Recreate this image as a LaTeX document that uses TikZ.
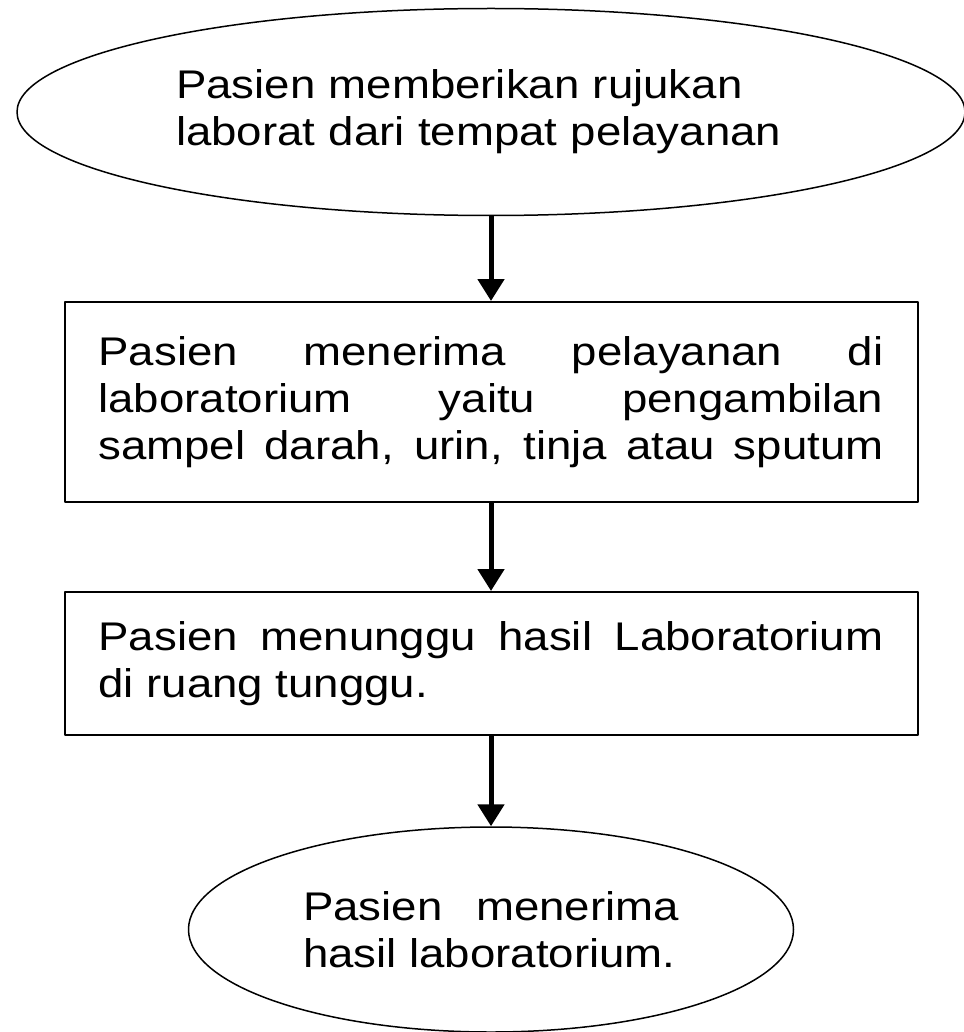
\documentclass[tikz,border=0pt]{standalone}
\usepackage{fontspec}
\setmainfont[FakeStretch=1.14]{Liberation Sans}
\usetikzlibrary{shapes.geometric,arrows.meta}

\begin{document}
\begin{tikzpicture}[x=1pt,y=-1pt,line join=bevel]
  \tikzstyle{oval}=[ellipse,draw,line width=1.5pt,inner sep=0pt,font=\fontsize{40}{47}\selectfont]
  \tikzstyle{proc}=[rectangle,draw,line width=2pt,inner sep=0pt,minimum width=853pt,text width=785pt,align=justify,font=\fontsize{40}{47}\selectfont]
  \tikzstyle{flow}=[line width=5pt,-{Triangle[width=26pt,length=22pt]}]
  \useasboundingbox (0,0) rectangle (963,1032);
  \node[oval,minimum width=948pt,minimum height=207pt,text width=630pt,align=left] (S_1) at (491,112)
    {Pasien memberikan rujukan\\laborat dari tempat pelayanan};
  \node[proc,minimum height=200pt] (P_1) at (491,402)
    {Pasien menerima pelayanan di\linebreak laboratorium yaitu pengambilan\linebreak
     \makebox[\linewidth][s]{sampel darah, urin, tinja atau sputum}};
  \node[proc,minimum height=143pt] (P_2) at (491,663.5)
    {Pasien menunggu hasil Laboratorium\linebreak di ruang tunggu.};
  \node[oval,minimum width=605pt,minimum height=205pt,text width=376pt,align=justify] (S_2) at (491,929.5)
    {Pasien menerima\linebreak hasil laboratorium.};
  \draw[flow] (S_1) -- (P_1);
  \draw[flow] (P_1) -- (P_2);
  \draw[flow] (P_2) -- (S_2);
\end{tikzpicture}
\end{document}
